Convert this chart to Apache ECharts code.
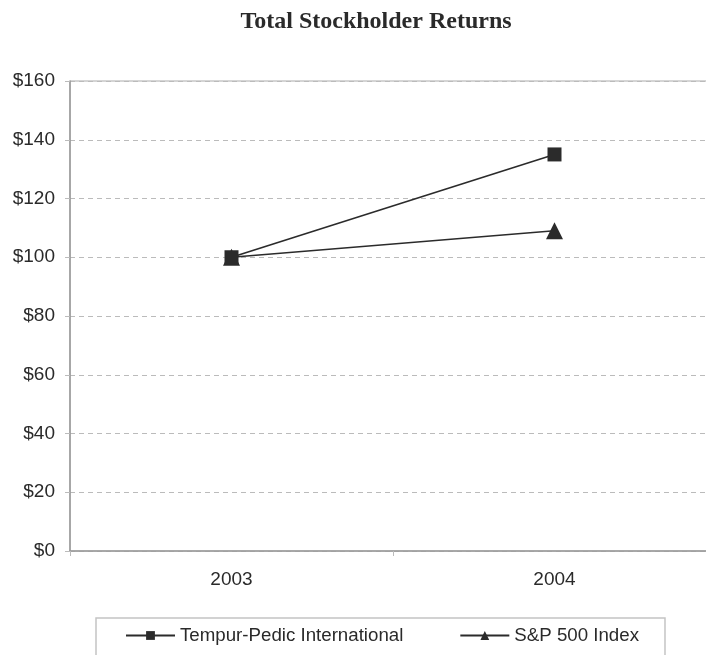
<!DOCTYPE html>
<html>
<head>
<meta charset="utf-8">
<script src="https://cdn.jsdelivr.net/npm/echarts@6/dist/echarts.min.js"></script>
<style>
  html, body { margin: 0; padding: 0; background: #fff; overflow: hidden; }
  #main { width: 706px; height: 655px; }
</style>
</head>
<body>
<div id="main"></div>
<script>
// chart data
const years = ["2003", "2004"];
const tempurValues = [100, 135];
const spValues = [100, 109];
const yTicks = [0, 20, 40, 60, 80, 100, 120, 140, 160];

const chart = echarts.init(document.getElementById("main"));
const ink = "#2b2b2b";

chart.setOption({
    animation: false,
    title: {
        text: "Total Stockholder Returns",
        left: 371,
        textAlign: "center",
        top: 5,
        textStyle: {
            fontFamily: "Liberation Serif",
            fontWeight: "bold",
            fontSize: 24,
            color: "#2a2a2a",
        },
    },
    grid: {
        left: 70,
        width: 646,
        top: 81,
        bottom: 104,
        outerBoundsMode: "none",
        show: true,
        borderColor: "#aaa",
        borderWidth: 1,
    },
    legend: {
        left: 96,
        top: 618,
        padding: [8, 26, 12, 29],
        itemGap: 56,
        itemWidth: 49,
        itemHeight: 11,
        borderColor: "#c4c4c4",
        borderWidth: 1.5,
        textStyle: {
            fontFamily: "Liberation Sans",
            fontSize: 18.7,
            color: "#2a2a2a",
        },
        data: ["Tempur-Pedic International", "S&P 500 Index"],
    },
    xAxis: {
        type: "category",
        data: years,
        boundaryGap: true,
        axisLine: { lineStyle: { color: "#999", width: 1.5 } },
        axisTick: { show: true, length: 5, lineStyle: { color: "#bbb" } },
        axisLabel: {
            margin: 19,
            fontFamily: "Liberation Sans",
            fontSize: 19,
            color: "#2a2a2a",
        },
    },
    yAxis: {
        type: "value",
        min: yTicks[0],
        max: yTicks[yTicks.length - 1],
        interval: 20,
        axisLine: { show: true, lineStyle: { color: "#999", width: 1.5 } },
        axisTick: { show: true, length: 5, lineStyle: { color: "#bbb" } },
        axisLabel: {
            margin: 15,
            fontFamily: "Liberation Sans",
            fontSize: 19,
            color: "#2a2a2a",
            formatter: (v) => "$" + v,
        },
        splitLine: {
            lineStyle: { color: "#bbb", type: [5, 4], width: 1 },
        },
    },
    series: [
        {
            name: "Tempur-Pedic International",
            type: "line",
            data: tempurValues,
            symbol: "rect",
            symbolSize: 14,
            z: 3,
            lineStyle: { color: ink, width: 1.6 },
            itemStyle: { color: ink },
        },
        {
            name: "S&P 500 Index",
            type: "line",
            data: spValues,
            symbol: "triangle",
            symbolSize: 17,
            z: 2,
            lineStyle: { color: ink, width: 1.6 },
            itemStyle: { color: ink },
        },
    ],
});
</script>
</body>
</html>
